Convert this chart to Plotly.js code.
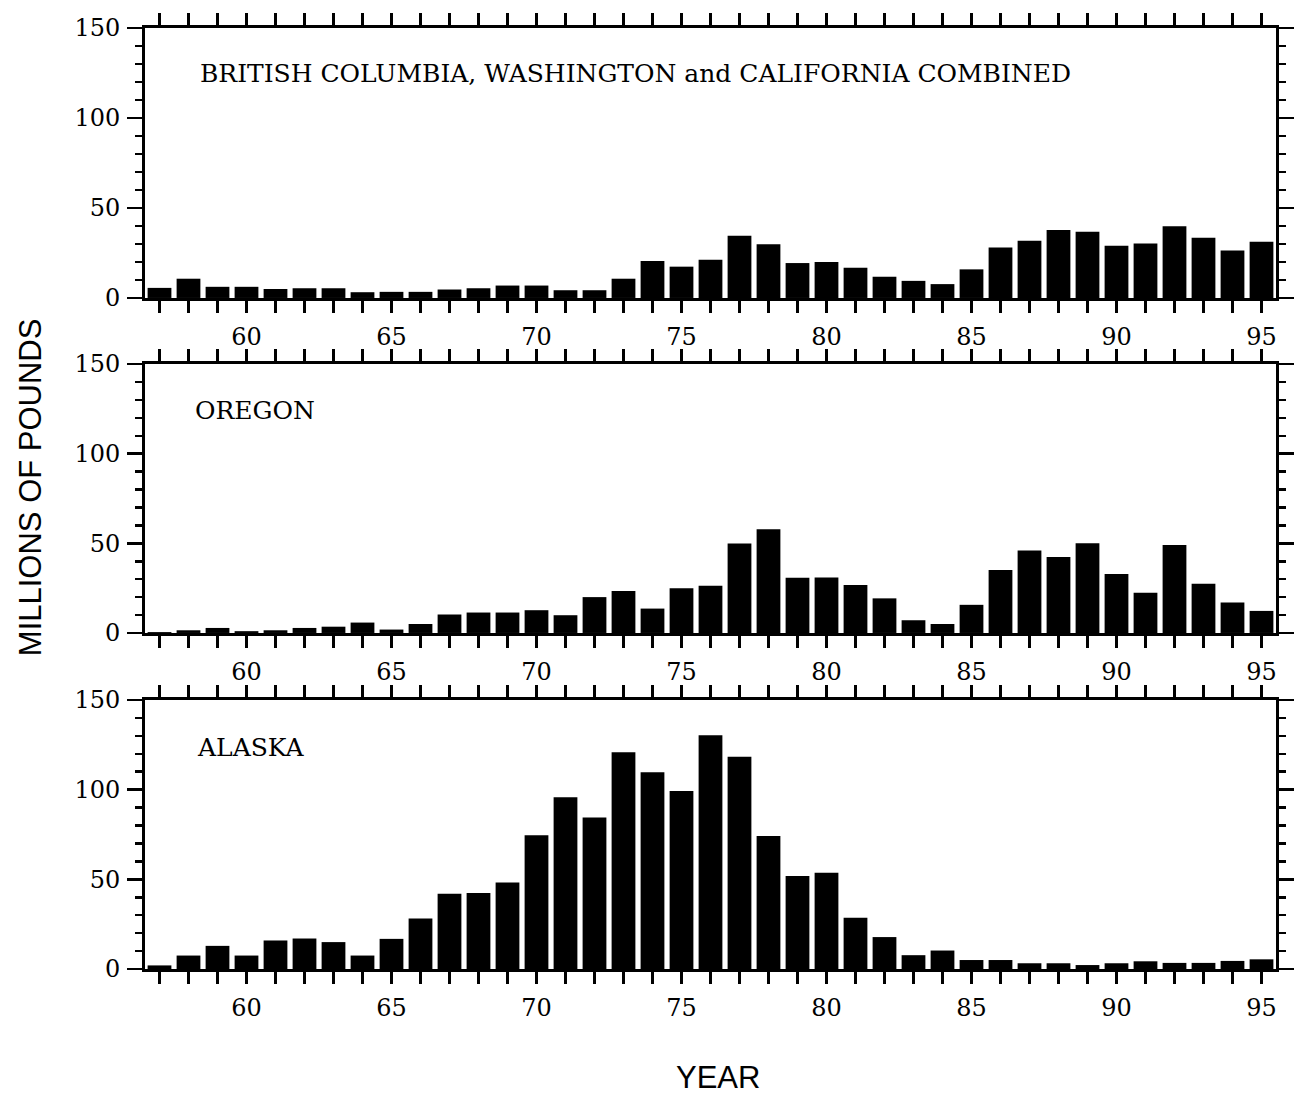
<!DOCTYPE html>
<html>
<head>
<meta charset="utf-8">
<script src="https://cdn.plot.ly/plotly-3.0.1.min.js"></script>
<style>
  html, body { margin: 0; padding: 0; background: #fff; }
  #chart { width: 1296px; height: 1096px; }
</style>
</head>
<body>
<div id="chart"></div>
<script>
// ---- data ----
const years = [57,58,59,60,61,62,63,64,65,66,67,68,69,70,71,72,73,74,75,76,77,78,79,80,81,82,83,84,85,86,87,88,89,90,91,92,93,94,95];

const bcWaCa = [5.6,10.7,6.2,6.2,5.0,5.4,5.4,3.2,3.4,3.4,4.7,5.4,6.9,6.9,4.3,4.3,10.7,20.6,17.4,21.3,34.6,29.9,19.4,20.0,16.8,11.8,9.5,7.7,15.9,28.0,31.8,37.8,36.8,29.0,30.3,39.8,33.5,26.4,31.2];

const oregon = [0.5,1.5,2.8,1.0,1.5,2.8,3.5,5.8,1.9,5.0,10.3,11.4,11.4,12.7,9.9,20.0,23.4,13.6,24.9,26.4,49.9,57.9,30.8,31.0,26.7,19.3,7.1,5.0,15.7,35.1,46.0,42.4,50.1,32.9,22.4,49.0,27.5,17.0,12.3];

const alaska = [2.0,7.5,12.9,7.5,15.9,17.0,15.0,7.5,16.8,28.2,42.0,42.4,48.2,74.6,95.7,84.5,120.9,109.7,99.3,130.3,118.3,74.2,51.8,53.6,28.6,17.8,7.7,10.3,5.0,5.0,3.2,3.2,2.2,3.2,4.3,3.4,3.4,4.5,5.4];

const panelNames = ['BRITISH COLUMBIA, WASHINGTON and CALIFORNIA COMBINED', 'OREGON', 'ALASKA'];
const xTickVals = [60,65,70,75,80,85,90,95];
const xTickText = ['60','65','70','75','80','85','90','95'];
const yTickVals = [0,50,100,150];
const yTickText = ['0','50','100','150'];
const yTitle = 'MILLIONS OF POUNDS';
const xTitle = 'YEAR';

// ---- layout helpers ----
const serif = 'DejaVu Serif, Liberation Serif, serif';
const sans = 'Liberation Sans, Arial, sans-serif';

const series = [bcWaCa, oregon, alaska];
const domains = [[0.7131, 1.0], [0.3571, 0.6429], [0.0, 0.2859]];

const traces = series.map((vals, i) => ({
  type: 'bar',
  x: years,
  y: vals,
  xaxis: i === 0 ? 'x' : 'x' + (i + 1),
  yaxis: i === 0 ? 'y' : 'y' + (i + 1),
  marker: { color: '#000', line: { width: 0 } },
  hoverinfo: 'x+y',
  showlegend: false
}));

function xAxis(i) {
  return {
    range: [56.5, 95.5],
    anchor: i === 0 ? 'y' : 'y' + (i + 1),
    tickmode: 'array',
    tickvals: xTickVals,
    ticktext: xTickText,
    ticks: 'outside',
    ticklen: 12,
    tickwidth: 2.5,
    tickcolor: '#000',
    minor: { dtick: 1, tick0: 0, ticks: 'outside', ticklen: 12, tickwidth: 2.5, tickcolor: '#000', showgrid: false },
    showline: true,
    linewidth: 3,
    linecolor: '#000',
    mirror: 'ticks',
    showgrid: false,
    zeroline: false,
    ticklabelstandoff: 3,
    tickfont: { family: serif, size: 24, color: '#000' },
    fixedrange: true
  };
}

function yAxis(i) {
  return {
    domain: domains[i],
    range: [0, 150],
    anchor: i === 0 ? 'x' : 'x' + (i + 1),
    tickmode: 'array',
    tickvals: yTickVals,
    ticktext: yTickText,
    ticks: 'outside',
    ticklen: 15,
    tickwidth: 2.5,
    tickcolor: '#000',
    minor: { dtick: 10, tick0: 0, ticks: 'outside', ticklen: 7, tickwidth: 2.5, tickcolor: '#000', showgrid: false },
    showline: true,
    linewidth: 3,
    linecolor: '#000',
    mirror: 'ticks',
    showgrid: false,
    zeroline: false,
    ticklabelstandoff: 2,
    tickfont: { family: serif, size: 24, color: '#000' },
    fixedrange: true
  };
}

const titleFont = { family: serif, size: 25, color: '#000' };

const layout = {
  width: 1296,
  height: 1096,
  margin: { l: 145, r: 20, t: 28, b: 127, pad: 0 },
  paper_bgcolor: '#fff',
  plot_bgcolor: '#fff',
  bargap: 0.18,
  showlegend: false,
  xaxis: xAxis(0), xaxis2: xAxis(1), xaxis3: xAxis(2),
  yaxis: yAxis(0), yaxis2: yAxis(1), yaxis3: yAxis(2),
  annotations: [
    { text: panelNames[0], xref: 'paper', yref: 'paper', x: 0.0469, y: 0.952, xanchor: 'left', yanchor: 'middle', showarrow: false, font: titleFont },
    { text: panelNames[1], xref: 'paper', yref: 'paper', x: 0.0424, y: 0.594, xanchor: 'left', yanchor: 'middle', showarrow: false, font: titleFont },
    { text: panelNames[2], xref: 'paper', yref: 'paper', x: 0.0442, y: 0.2349, xanchor: 'left', yanchor: 'middle', showarrow: false, font: titleFont },
    { text: yTitle, xref: 'paper', yref: 'paper', x: -0.1017, y: 0.512, xanchor: 'center', yanchor: 'middle', textangle: -90, showarrow: false, font: { family: sans, size: 31, color: '#000' } },
    { text: xTitle, xref: 'paper', yref: 'paper', x: 0.5066, y: -0.1158, xanchor: 'center', yanchor: 'middle', showarrow: false, font: { family: sans, size: 31, color: '#000' } }
  ]
};

Plotly.newPlot('chart', traces, layout, { displayModeBar: false, staticPlot: true });
</script>
</body>
</html>
